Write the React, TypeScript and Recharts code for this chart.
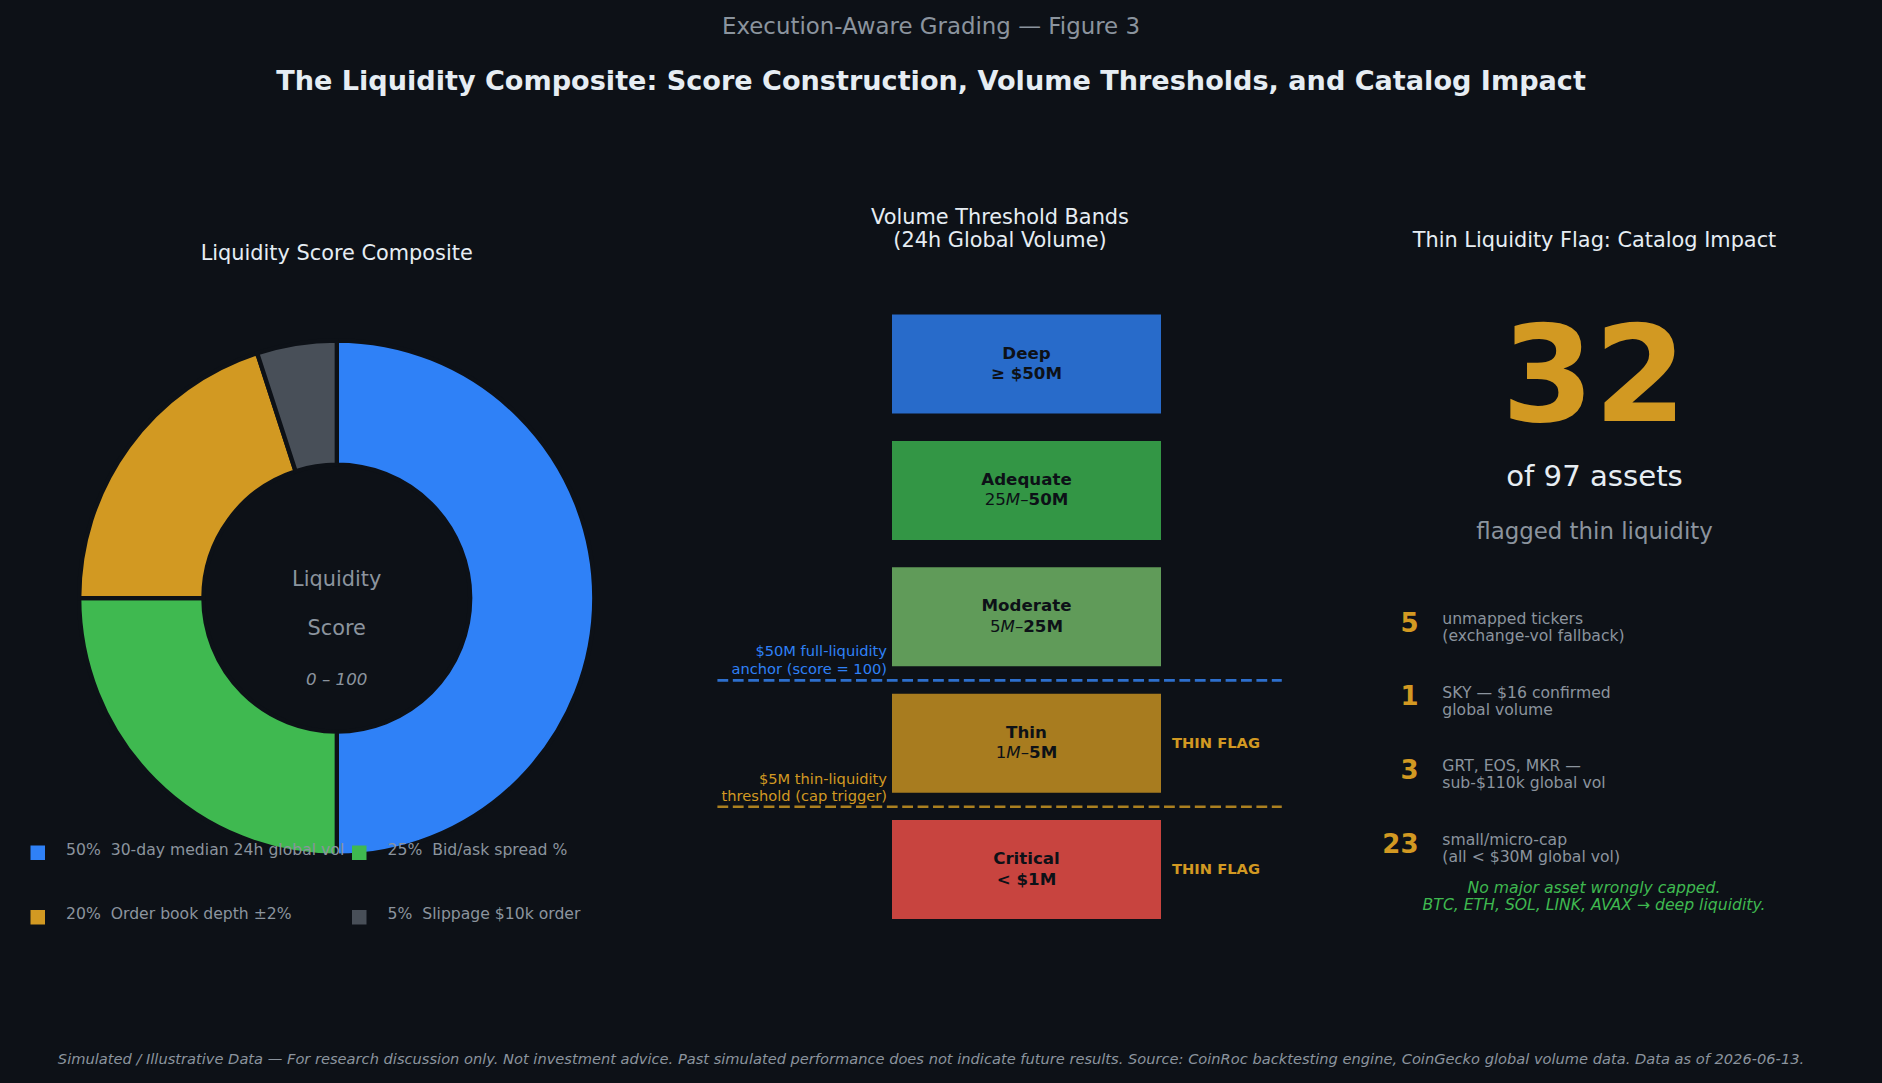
import { Bar, BarChart, Cell, LabelList, Pie, PieChart, ReferenceLine, XAxis, YAxis } from "recharts";

const BG = "#0D1117";
const TEXT = "#E6EDF3";
const MUTED = "#8B949E";
const BLUE = "#2F81F7";
const GREEN = "#3FB950";
const GOLD = "#D29922";
const SLATE = "#484F58";
const FONT = "'DejaVu Sans', sans-serif";

const weightLabels = ["50%  30-day median 24h global vol", "25%  Bid/ask spread %", "20%  Order book depth ±2%", "5%  Slippage $10k order"];
const weightValues = [50, 25, 20, 5];
const weightColors = [BLUE, GREEN, GOLD, SLATE];

const bandNames = ["Deep", "Adequate", "Moderate", "Thin", "Critical"];
const bandRanks = [0, 1, 2, 3, 4];
const bandSpan = [1, 1, 1, 1, 1];
const bandFlags = [false, false, false, true, true];
const bandColors = ["#286BCA", "#339645", "#609B59", "#A87C1F", "#C8443F"];
const thresholdLevels = [2.505, 3.505];
const thresholdColors = ["#2D6FCD", "#AB8020"];

const impactCounts = ["5", "1", "3", "23"];
const impactLines = [
  ["unmapped tickers", "(exchange-vol fallback)"],
  ["SKY — $16 confirmed", "global volume"],
  ["GRT, EOS, MKR —", "sub-$110k global vol"],
  ["small/micro-cap", "(all < $30M global vol)"],
];

const bandData = bandNames.map((name, i) => ({ name, rank: bandRanks[i], span: bandSpan[i] }));
const weightData = weightLabels.map((name, i) => ({ name, value: weightValues[i] }));

// second line of each band label, the mangled ones came out of mathtext in the original
const bandRangeLine = (i: number) => {
  const bold = { fontWeight: 700 };
  const ital = { fontStyle: "italic" as const, fontWeight: 400 };
  const plain = { fontWeight: 400 };
  if (i === 0) return <tspan {...bold}>≥ $50M</tspan>;
  if (i === 4) return <tspan {...bold}>{"< $1M"}</tspan>;
  const low = ["", "25", "5", "1"][i];
  const high = ["", "50M", "25M", "5M"][i];
  return (
    <>
      <tspan {...plain}>{low}</tspan>
      <tspan {...ital}>M</tspan>
      <tspan {...plain}>–</tspan>
      <tspan {...bold}>{high}</tspan>
    </>
  );
};

const BandLabel = (props: any) => {
  const { x, y, width, height, index } = props;
  const cx = x + width / 2;
  const cy = y + height / 2;
  return (
    <g fontFamily={FONT} fontSize={16.67}>
      <text x={cx} y={cy - 5.5} textAnchor="middle" fill={BG} fontWeight={700}>{bandNames[index]}</text>
      <text x={cx} y={cy + 15} textAnchor="middle" fill={BG}>{bandRangeLine(index)}</text>
      {bandFlags[index] && (
        <text x={x + width + 11} y={cy + 4.5} fill={GOLD} fontWeight={700} fontSize={14.7}>THIN FLAG</text>
      )}
    </g>
  );
};

const Label = ({ x, y, size, color = MUTED, anchor = "start", bold, italic, children }: any) => (
  <text
    x={x}
    y={y}
    fontSize={size}
    fill={color}
    textAnchor={anchor}
    fontWeight={bold ? 700 : 400}
    fontStyle={italic ? "italic" : "normal"}
    fontFamily={FONT}
    style={{ whiteSpace: "pre" }}
  >
    {children}
  </text>
);

const box = (left: number, top: number) => ({ position: "absolute" as const, left, top });

const legendX = [30.5, 352];
const legendY = [845.5, 910];

export default function App() {
  return (
    <div style={{ position: "fixed", left: 0, top: 0, width: 1882, height: 1083, background: BG, overflow: "hidden" }}>
      <div style={box(0, 300)}>
        <PieChart width={672} height={600} margin={{ top: 0, right: 0, bottom: 0, left: 0 }}>
          <Pie
            data={weightData}
            dataKey="value"
            cx={336.8}
            cy={298.1}
            outerRadius={257.6}
            innerRadius={133.4}
            startAngle={90}
            endAngle={-270}
            stroke={BG}
            strokeWidth={4.3}
            isAnimationActive={false}
          >
            {weightColors.map((c) => (
              <Cell key={c} fill={c} />
            ))}
          </Pie>
        </PieChart>
      </div>

      <div style={box(700, 280)}>
        <BarChart
          width={620}
          height={680}
          layout="vertical"
          data={bandData}
          margin={{ top: 20.5, right: 159, bottom: 27.5, left: 192 }}
        >
          <XAxis type="number" hide domain={[0, 1]} />
          <YAxis type="number" dataKey="rank" hide domain={[-0.5, 4.5]} />
          <Bar dataKey="span" barSize={99} isAnimationActive={false}>
            {bandColors.map((c) => (
              <Cell key={c} fill={c} />
            ))}
            <LabelList dataKey="span" content={<BandLabel />} />
          </Bar>
          {thresholdLevels.map((level, i) => (
            <ReferenceLine
              key={level}
              ifOverflow="visible"
              segment={[{ x: -0.649, y: level }, { x: 1.449, y: level }]}
              stroke={thresholdColors[i]}
              strokeWidth={2.7}
              strokeDasharray="10.8 4.6"
            />
          ))}
        </BarChart>
      </div>

      <svg width={1882} height={1083} style={box(0, 0)}>
        <Label x={931} y={33.5} size={22.9} anchor="middle">Execution-Aware Grading — Figure 3</Label>
        <Label x={931} y={89.5} size={27.1} anchor="middle" color={TEXT} bold>The Liquidity Composite: Score Construction, Volume Thresholds, and Catalog Impact</Label>

        <Label x={336.7} y={260} size={20.85} anchor="middle" color={TEXT}>Liquidity Score Composite</Label>
        <Label x={336.7} y={586} size={20.85} anchor="middle">Liquidity</Label>
        <Label x={336.7} y={634.5} size={20.85} anchor="middle">Score</Label>
        <Label x={336.7} y={685} size={16.67} anchor="middle" italic>0 – 100</Label>
        {weightLabels.map((label, i) => (
          <g key={label}>
            <rect x={legendX[i % 2]} y={legendY[i >> 1]} width={14.5} height={14.5} fill={weightColors[i]} />
            <Label x={legendX[i % 2] + 35.5} y={855 + (i >> 1) * 64} size={15.65}>{label}</Label>
          </g>
        ))}

        <Label x={1000} y={223.5} size={20.85} anchor="middle" color={TEXT}>Volume Threshold Bands</Label>
        <Label x={1000} y={247} size={20.85} anchor="middle" color={TEXT}>(24h Global Volume)</Label>
        <Label x={887} y={656} size={14.65} anchor="end" color={BLUE}>$50M full-liquidity</Label>
        <Label x={887} y={674} size={14.65} anchor="end" color={BLUE}>anchor (score = 100)</Label>
        <Label x={887} y={784} size={14.65} anchor="end" color={GOLD}>$5M thin-liquidity</Label>
        <Label x={887} y={801} size={14.65} anchor="end" color={GOLD}>threshold (cap trigger)</Label>

        <Label x={1594.5} y={247} size={20.85} anchor="middle" color={TEXT}>Thin Liquidity Flag: Catalog Impact</Label>
        <Label x={1594} y={421} size={133} anchor="middle" color={GOLD} bold>32</Label>
        <Label x={1594.5} y={485.5} size={29.17} anchor="middle" color={TEXT}>of 97 assets</Label>
        <Label x={1594.5} y={538.5} size={22.9} anchor="middle">flagged thin liquidity</Label>
        {impactCounts.map((count, i) => (
          <g key={count}>
            <Label x={1418.5} y={631.5 + i * 73.7} size={26} anchor="end" color={GOLD} bold>{count}</Label>
            <Label x={1442.3} y={624 + i * 73.7} size={15.65}>{impactLines[i][0]}</Label>
            <Label x={1442.3} y={641 + i * 73.7} size={15.65}>{impactLines[i][1]}</Label>
          </g>
        ))}
        <Label x={1594} y={893} size={15.65} anchor="middle" color={GREEN} italic>No major asset wrongly capped.</Label>
        <Label x={1594} y={910} size={15.65} anchor="middle" color={GREEN} italic>BTC, ETH, SOL, LINK, AVAX → deep liquidity.</Label>

        <Label x={931} y={1064} size={14.64} anchor="middle" italic>Simulated / Illustrative Data — For research discussion only. Not investment advice. Past simulated performance does not indicate future results. Source: CoinRoc backtesting engine, CoinGecko global volume data. Data as of 2026-06-13.</Label>
      </svg>
    </div>
  );
}
